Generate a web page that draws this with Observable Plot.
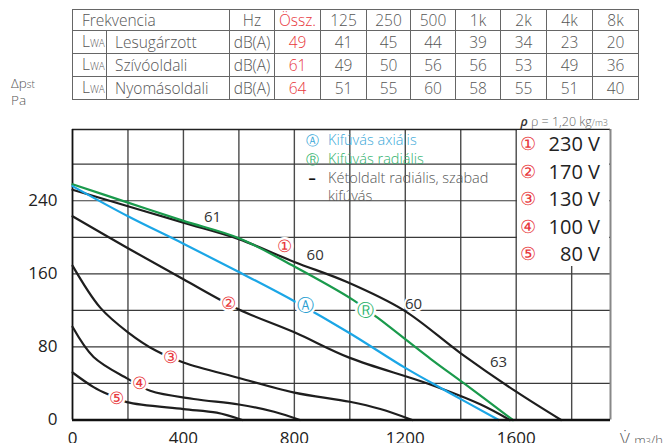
<!DOCTYPE html>
<html><head><meta charset="utf-8">
<script src="https://cdn.jsdelivr.net/npm/d3@7"></script>
<script src="https://cdn.jsdelivr.net/npm/@observablehq/plot@0.6"></script>
<style>
body{margin:0;background:#fff;font-family:'Open Sans',sans-serif;}
#wrap{position:relative;width:670px;height:443px;overflow:hidden;background:#fff}
#wrap svg{position:absolute;left:0;top:0}
#tbl{position:absolute;left:72px;top:9px;border-collapse:collapse;table-layout:fixed;font-size:15.5px;font-weight:300;color:#555}
#tbl td{border:1px solid #666;height:20px;line-height:20px;padding:0;text-align:center;white-space:nowrap;overflow:hidden}
#tbl td.l{text-align:left;padding-left:9px}
#tbl td.n{text-align:left;padding-left:8px}
#tbl td.r{color:#e8383d}
.abs{position:absolute;white-space:nowrap}
#ylab{left:11px;top:75px;font-size:13.5px;line-height:16px;color:#555;font-weight:300}
#rho{right:62px;top:113px;font-size:12.5px;color:#666;font-weight:300}
#xlab{left:620px;top:427px;font-size:17px;color:#555;font-weight:300}
#lbox{left:517px;top:130px;width:92px;height:136px;background:#fff}
#lbox div{position:relative;height:27.5px;line-height:27.5px;font-size:20px;color:#222}
#lbox .c{position:absolute;left:3px;font-size:18px;color:#e8383d}
#lbox .v{position:absolute;right:9px}
#leg{left:300px;top:131px;font-size:14.5px;line-height:18.8px;font-weight:300}
#leg .s{display:inline-block;width:24px;text-align:center;margin-right:4px}
</style>
</head><body>
<div id="wrap"></div>
<script>
// ---- Table data ----
const bandHeaders = ["Össz.", "125", "250", "500", "1k", "2k", "4k", "8k"];
const rowNames = ["Lesugárzott", "Szívóoldali", "Nyomásoldali"];
const rowLesugarzott = [49, 41, 45, 44, 39, 34, 23, 20];
const rowSzivooldali = [61, 49, 50, 56, 56, 53, 49, 36];
const rowNyomasoldali = [64, 51, 55, 60, 58, 55, 51, 40];

// ---- Curve data: [flow m3/h, pressure Pa] ----
const curve230 = [[0,252],[200,234],[400,216],[600,198],[800,173],[990,151],[1195,120],[1400,73],[1600,31],[1762,0]];
const curve170 = [[0,223],[200,188],[400,154],[600,121],[800,96],[1000,68],[1280,40],[1472,17],[1577,0]];
const curve130 = [[0,169],[100,123],[200,96],[300,76],[400,63],[600,46],[800,30],[1000,20],[1110,12],[1225,0]];
const curve100 = [[0,102],[76,69],[200,45],[280,32],[437,23],[600,17],[727,9],[820,0]];
const curve80  = [[0,52],[76,36],[136,27],[196,19.5],[400,12],[520,8],[612,0]];
const curveRadial = [[0,258],[200,238],[400,218],[600,199],[800,168],[1014,131],[1100,112],[1291,67],[1412,40],[1588,0]];
const curveAxial  = [[0,256],[200,223],[400,193],[600,162],[800,130],[1000,95],[1200,57],[1352,31],[1537,0]];

// ---- Labels on the curves ----
const markLabels = ["①", "②", "③", "④", "⑤", "Ⓐ", "Ⓡ"];
const markFlow = [765, 563, 352, 241, 160, 839, 1056];
const markPres = [190, 127, 68, 40, 24, 125, 120];
const noiseLabels = ["61", "60", "60", "63"];
const noiseFlow = [505, 875, 1230, 1536];
const noisePres = [222, 180, 127, 63];

// ---- Axes ----
const xTicks = [0, 400, 800, 1200, 1600];
const yTicks = [0, 80, 160, 240];
const xGrid = [200, 400, 600, 800, 1000, 1200, 1400, 1600, 1800];
const yGrid = [40, 80, 120, 160, 200, 240, 280];
const xMax = 1940, yMax = 318;

// ---- Legend ----
const voltSymbols = ["①", "②", "③", "④", "⑤"];
const voltLabels = ["230 V", "170 V", "130 V", "100 V", "80 V"];

const wrap = document.getElementById("wrap");

const blue = "#1ba6e6", green = "#1a9a4c", black = "#1e1e1e", red = "#e8383d";
const markColors = [red, red, red, red, red, "#2b9fd2", "#2cb36c"];

const marks = markLabels.map((t, i) => ({t, x: markFlow[i], y: markPres[i], c: markColors[i]}));
const noise = noiseLabels.map((t, i) => ({t, x: noiseFlow[i], y: noisePres[i]}));

const plot = Plot.plot({
  width: 670, height: 443,
  marginLeft: 72, marginRight: 60, marginTop: 129, marginBottom: 23.5,
  x: {domain: [0, xMax]},
  y: {domain: [0, yMax]},
  style: {fontFamily: "'Open Sans', sans-serif", background: "transparent"},
  marks: [
    Plot.ruleX(xGrid, {stroke: "#4a4a4a", strokeWidth: 1.4}),
    Plot.ruleY(yGrid, {stroke: "#3a3a3a", strokeWidth: 1.2}),
    Plot.ruleY([yMax], {stroke: "#222", strokeWidth: 1.5}),
    Plot.ruleX([xMax], {stroke: "#888", strokeWidth: 2}),
    Plot.ruleX([0], {stroke: "#111", strokeWidth: 1.8}),
    Plot.line(curve80, {x: d => d[0], y: d => d[1], stroke: black, strokeWidth: 2.2, curve: "catmull-rom"}),
    Plot.line(curve100, {x: d => d[0], y: d => d[1], stroke: black, strokeWidth: 2.2, curve: "catmull-rom"}),
    Plot.line(curve130, {x: d => d[0], y: d => d[1], stroke: black, strokeWidth: 2.2, curve: "catmull-rom"}),
    Plot.line(curve170, {x: d => d[0], y: d => d[1], stroke: black, strokeWidth: 2.2, curve: "catmull-rom"}),
    Plot.line(curve230, {x: d => d[0], y: d => d[1], stroke: black, strokeWidth: 2.2, curve: "catmull-rom"}),
    Plot.line(curveRadial, {x: d => d[0], y: d => d[1], stroke: green, strokeWidth: 2.2, curve: "catmull-rom"}),
    Plot.line(curveAxial, {x: d => d[0], y: d => d[1], stroke: blue, strokeWidth: 2.2, curve: "catmull-rom"}),
    Plot.ruleY([0], {stroke: "#111", strokeWidth: 2.6}),
    Plot.text(marks, {x: "x", y: "y", text: "t", fill: "c", fontSize: 17, stroke: "white", strokeWidth: 5}),
    Plot.text(noise, {x: "x", y: "y", text: "t", fill: "#333", fontSize: 15, stroke: "white", strokeWidth: 4}),
    Plot.axisX(xTicks, {tickSize: 0, tickPadding: 12, fontSize: 17, fill: "#222", label: null, tickFormat: d => String(d)}),
    Plot.axisY(yTicks, {tickSize: 0, tickPadding: 15, fontSize: 17, fill: "#222", label: null, tickFormat: d => String(d)})
  ]
});
wrap.appendChild(plot);

// Table
const tbl = document.createElement("table");
tbl.id = "tbl";
const widths = [34, 123, 45, 46, 46, 44, 45, 45, 46, 46, 46];
const cg = document.createElement("colgroup");
widths.forEach(w => { const c = document.createElement("col"); c.style.width = w + "px"; cg.appendChild(c); });
tbl.appendChild(cg);
let html = `<tr><td class="l" colspan="2">Frekvencia</td><td>Hz</td>` +
  bandHeaders.map((b, i) => `<td${i === 0 ? ' class="r"' : ''}>${b}</td>`).join("") + `</tr>`;
[rowLesugarzott, rowSzivooldali, rowNyomasoldali].forEach((vals, r) => {
  html += `<tr><td class="l">L<span style="font-size:10px">WA</span></td><td class="n">${rowNames[r]}</td><td>dB(A)</td>` +
    vals.map((v, i) => `<td${i === 0 ? ' class="r"' : ''}>${v}</td>`).join("") + `</tr>`;
});
tbl.insertAdjacentHTML("beforeend", html);
wrap.appendChild(tbl);

// Overlays
wrap.insertAdjacentHTML("beforeend", `
<div class="abs" id="ylab">Δp<span style="font-size:10px">st</span><br>Pa</div>
<div class="abs" id="rho"><i style="font-weight:600;color:#333">ρ</i> ρ = 1,20 kg<span style="font-size:9px">/m3</span></div>
<div class="abs" id="xlab">V̇ <span style="font-size:13px">m<span style="font-size:9px">3</span>/h</span></div>
<div class="abs" id="leg">
  <div style="color:#3aa8d8"><span class="s" style="font-size:13px">Ⓐ</span>Kifúvás axiális</div>
  <div style="color:#2fb26c"><span class="s" style="font-size:13px">Ⓡ</span>Kifúvás radiális</div>
  <div style="color:#555"><span class="s" style="color:#111;font-weight:700">–</span>Kétoldalt radiális, szabad</div>
  <div style="color:#555;padding-left:28px">kifúvás</div>
</div>
<div class="abs" id="lbox">${voltSymbols.map((s, i) => `<div><span class="c">${s}</span><span class="v">${voltLabels[i]}</span></div>`).join("")}</div>
`);
</script>
</body></html>
